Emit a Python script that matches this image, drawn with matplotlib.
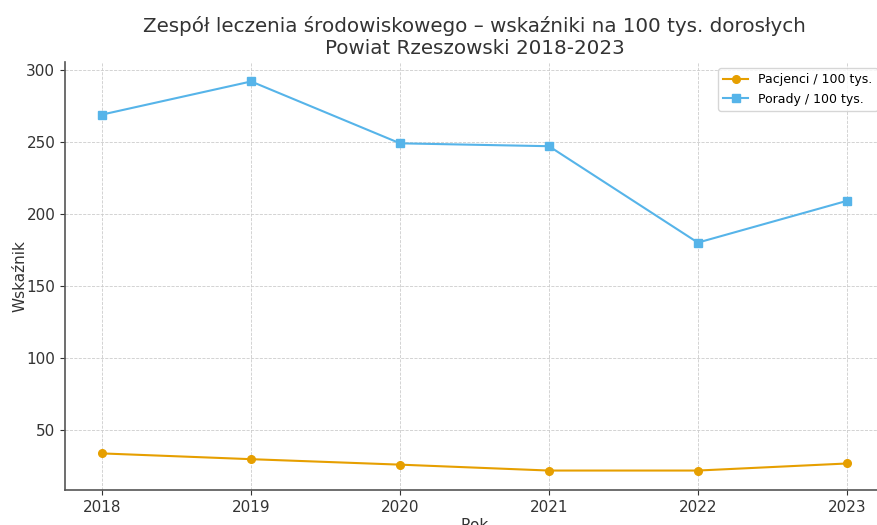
import matplotlib
matplotlib.use("Agg")
import matplotlib.pyplot as plt

lata = [2018, 2019, 2020, 2021, 2022, 2023]
pacjenci = [33.5, 29.5, 25.7, 21.6, 21.6, 26.5]
porady = [269, 292, 249, 247, 180, 209]

plt.rcParams['font.family'] = ['DejaVu Sans']

fig = plt.figure(figsize=(8.77, 5.25), dpi=100)
ax = fig.add_axes([65 / 877, 35 / 525, (884 - 65) / 877, (490 - 62) / 525])

ax.plot(lata, pacjenci, marker='o', markersize=5.5, color='#E69F00',
        linewidth=1.5, label='Pacjenci / 100 tys.')
ax.plot(lata, porady, marker='s', markersize=5.5, color='#56B4E9',
        linewidth=1.5, label='Porady / 100 tys.')

ax.set_title('Zespół leczenia środowiskowego – wskaźniki na 100 tys. dorosłych\n'
             'Powiat Rzeszowski 2018-2023', fontsize=14.3, color='#333333',
             pad=6, linespacing=1.15)
ax.set_xlabel('Rok', fontsize=11, color='#333333', labelpad=2)
ax.set_ylabel('Wskaźnik', fontsize=11, color='#333333', labelpad=-1)
ax.set_xticks(lata)
ax.set_yticks([50, 100, 150, 200, 250, 300])
ax.tick_params(labelsize=11, colors='#333333')
ax.grid(True, linestyle='--', color='#cccccc', linewidth=0.6)
for s in ['top', 'right']:
    ax.spines[s].set_visible(False)
for s in ['left', 'bottom']:
    ax.spines[s].set_color('#555555')
    ax.spines[s].set_linewidth(1.2)
ax.legend(loc='upper right', fontsize=9, frameon=True, edgecolor='#cccccc')

fig.savefig('out.png', dpi=100)
